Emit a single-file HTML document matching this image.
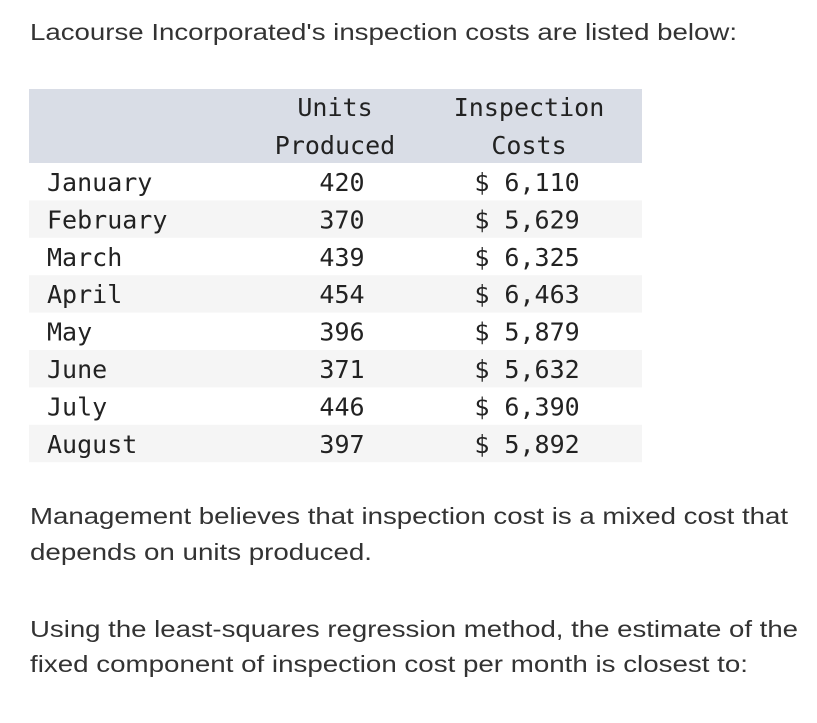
<!DOCTYPE html>
<html><head><meta charset="utf-8"><style>
html,body{margin:0;padding:0;background:#fff;}
svg{display:block;}
.s{font-family:"Liberation Sans",Arial,sans-serif;font-size:23px;fill:#333;}
.m{font-family:"DejaVu Sans Mono","Liberation Mono",monospace;font-size:25px;fill:#222;}
</style></head><body>
<svg width="817" height="723" viewBox="0 0 817 723">
<text class="s" x="30" y="40" textLength="707" lengthAdjust="spacingAndGlyphs">Lacourse Incorporated's inspection costs are listed below:</text>
<g>
<rect x="29" y="89" width="613" height="74" fill="#d9dde6"/>
<text class="m" x="335" y="116" text-anchor="middle">Units</text>
<text class="m" x="335" y="154" text-anchor="middle">Produced</text>
<text class="m" x="529" y="116" text-anchor="middle">Inspection</text>
<text class="m" x="529" y="154" text-anchor="middle">Costs</text>
<g id="rows"></g>
</g>
<text class="s" x="30" y="524" textLength="758" lengthAdjust="spacingAndGlyphs">Management believes that inspection cost is a mixed cost that</text>
<text class="s" x="30" y="560" textLength="342" lengthAdjust="spacingAndGlyphs">depends on units produced.</text>
<text class="s" x="30" y="637" textLength="768" lengthAdjust="spacingAndGlyphs">Using the least-squares regression method, the estimate of the</text>
<text class="s" x="30" y="672" textLength="718" lengthAdjust="spacingAndGlyphs">fixed component of inspection cost per month is closest to:</text>
</svg>
<script>
const months=["January","February","March","April","May","June","July","August"];
const units=[420,370,439,454,396,371,446,397];
const costs=[6110,5629,6325,6463,5879,5632,6390,5892];
const g=document.getElementById('rows');const NS="http://www.w3.org/2000/svg";
const top0=163,rh=37.4;
months.forEach((m,i)=>{
  const y=top0+i*rh;
  if(i%2===1){const r=document.createElementNS(NS,'rect');
    r.setAttribute('x',29);r.setAttribute('y',y);r.setAttribute('width',613);r.setAttribute('height',rh);r.setAttribute('fill','#f5f5f5');
    
    
    g.appendChild(r);}
  const mk=(txt,x,anchor)=>{const t=document.createElementNS(NS,'text');t.setAttribute('class','m');t.setAttribute('x',x);t.setAttribute('y',y+28);t.setAttribute('text-anchor',anchor);t.textContent=txt;g.appendChild(t);return t;};
  const a=mk(m,47,'start');
  
  
  const b=mk(String(units[i]),342,'middle');
  
  
  const c=mk('$ '+costs[i].toLocaleString('en-US'),527,'middle');
  
  
});
</script>
</body></html>
